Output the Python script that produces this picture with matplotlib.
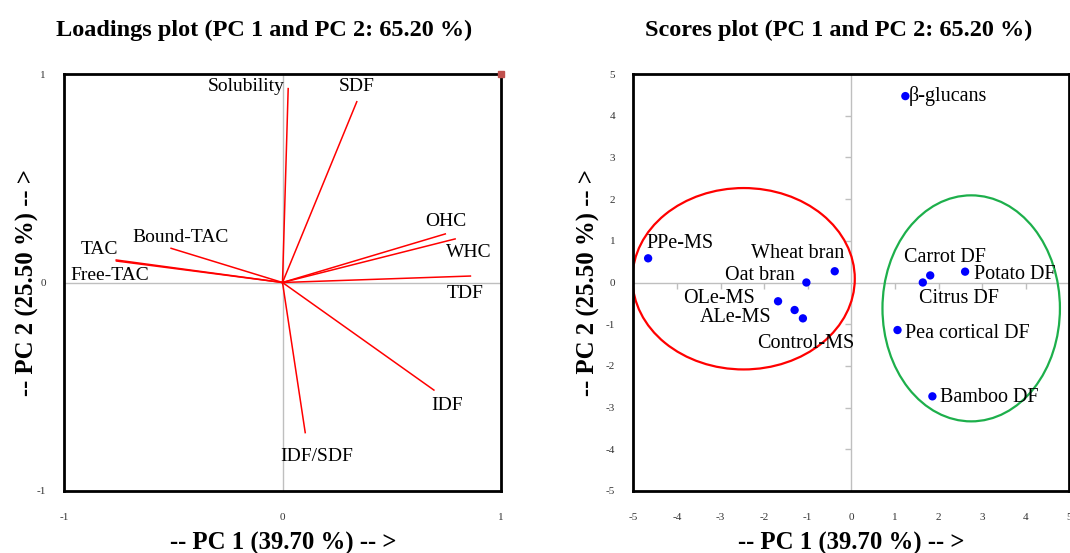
import matplotlib
matplotlib.use("Agg")
import matplotlib.pyplot as plt
from matplotlib.patches import Ellipse

plt.rcParams["font.family"] = ["Liberation Serif", "DejaVu Serif"]
plt.rcParams["axes.unicode_minus"] = False

# ---- Loadings (PC1, PC2) ----
variables = ["Solubility", "SDF", "OHC", "WHC", "TDF", "Bound-TAC", "TAC",
             "Free-TAC", "IDF", "IDF/SDF"]
load_pc1 = [0.026, 0.34, 0.745, 0.79, 0.86, -0.51, -0.761, -0.76, 0.693, 0.104]
load_pc2 = [0.93, 0.867, 0.233, 0.209, 0.031, 0.164, 0.108, 0.103, -0.516, -0.72]
# label offsets (pixels) relative to the arrow tips, and alignment
load_dx = [-4, 0, 1, 14, -5, 10, -17, -7, 13, 11]
load_dy = [2, 15, 12, -14, -17, 11, 10, -14, -15, -24]
load_ha = ["right", "center", "center", "center", "center", "center",
           "center", "center", "center", "center"]

# ---- Scores (PC1, PC2) ----
samples = ["β-glucans", "PPe-MS", "Wheat bran", "Oat bran", "OLe-MS", "ALe-MS",
           "Control-MS", "Carrot DF", "Citrus DF", "Potato DF",
           "Pea cortical DF", "Bamboo DF"]
score_pc1 = [1.24, -4.66, -0.38, -1.03, -1.68, -1.30, -1.11, 1.81, 1.64, 2.61,
             1.06, 1.86]
score_pc2 = [4.47, 0.58, 0.27, 0.0, -0.45, -0.66, -0.86, 0.17, 0.0, 0.26,
             -1.14, -2.73]
score_dx = [3, -2, 10, -12, -23, -23, 3, -26, -4, 9, 7, 8]
score_dy = [0, 15, 18, 7, 3, -7, -25, 18, -16, -3, -3, -1]
score_ha = ["left", "left", "right", "right", "right", "right", "center",
            "left", "left", "left", "left", "left"]

# ---- Group ellipses: centre x, centre y, width, height, colour ----
group_cx = [-2.47, 2.75]
group_cy = [0.09, -0.62]
group_w = [5.1, 4.07]
group_h = [4.35, 5.42]
group_col = ["#FF0000", "#1DAF4B"]

title_txt = "PC 1 and PC 2: 65.20 %"
xlab = "-- PC 1 (39.70 %) -- >"
ylab = "-- PC 2 (25.50 %) -- >"

W, H = 1070, 553
fig = plt.figure(figsize=(W / 100, H / 100), dpi=100)

ax1 = fig.add_axes([64 / W, 1 - 491 / H, 437 / W, 417 / H])
ax2 = fig.add_axes([633.3 / W, 1 - 491 / H, 436 / W, 417 / H])

gray = "#BFBFBF"
for ax in (ax1, ax2):
    for s in ax.spines.values():
        s.set_linewidth(2.0)
        s.set_color("black")
    ax.tick_params(length=0, labelsize=8, colors="#333333")
    ax.axhline(0, color=gray, lw=1.0, zorder=0)
    ax.axvline(0, color=gray, lw=1.0, zorder=0)

# Loadings plot
ax1.set_xlim(-1, 1)
ax1.set_ylim(-1, 1)
ax1.set_xticks([-1, 0, 1])
ax1.set_yticks([-1, 0, 1])
ax1.tick_params(axis="y", pad=13)
ax1.tick_params(axis="x", pad=16)
for name, x, y, dx, dy, ha in zip(variables, load_pc1, load_pc2, load_dx,
                                  load_dy, load_ha):
    ax1.plot([0, x], [0, y], color="#FF0000", lw=1.1, zorder=2)
    ax1.annotate(name, (x, y), xytext=(dx, dy), textcoords="offset pixels",
                 ha=ha, va="center", fontsize=14, zorder=3)
ax1.plot([1], [1], marker="s", ms=5, color="#C0504D", clip_on=False, zorder=5)

# Scores plot
ax2.set_xlim(-5, 5)
ax2.set_ylim(-5, 5)
ticks = list(range(-5, 6))
ax2.set_xticks(ticks)
ax2.set_yticks(ticks)
ax2.tick_params(axis="y", pad=13)
ax2.tick_params(axis="x", pad=16)
inner = [t for t in ticks if t not in (-5, 0, 5)]
ax2.plot(inner, [0] * len(inner), ls="none", marker=3, ms=4, mew=1,
         color=gray, zorder=0)
ax2.plot([0] * len(inner), inner, ls="none", marker=0, ms=4, mew=1,
         color=gray, zorder=0)
for cx, cy, w, h, c in zip(group_cx, group_cy, group_w, group_h, group_col):
    ax2.add_patch(Ellipse((cx, cy), w, h, fill=False, ec=c, lw=1.6, zorder=2))
ax2.scatter(score_pc1, score_pc2, s=36, color="#0000FF", zorder=4,
            edgecolors="none")
for name, x, y, dx, dy, ha in zip(samples, score_pc1, score_pc2, score_dx,
                                  score_dy, score_ha):
    ax2.annotate(name, (x, y), xytext=(dx, dy), textcoords="offset pixels",
                 ha=ha, va="center", fontsize=14.5, zorder=3)

# Titles and axis labels
fig.text(264 / W, 1 - 30 / H, f"Loadings plot ({title_txt})", ha="center",
         va="center", fontsize=17.5, fontweight="bold")
fig.text(839 / W, 1 - 30 / H, f"Scores plot ({title_txt})", ha="center",
         va="center", fontsize=17.5, fontweight="bold")
fig.text(283 / W, 1 - 543 / H, xlab, ha="center", va="center", fontsize=17.8,
         fontweight="bold")
fig.text(851.7 / W, 1 - 543 / H, xlab, ha="center", va="center", fontsize=17.8,
         fontweight="bold")
fig.text(27 / W, 1 - 283 / H, ylab, ha="center", va="center", rotation=90,
         fontsize=17.8, fontweight="bold")
fig.text(588 / W, 1 - 283 / H, ylab, ha="center", va="center", rotation=90,
         fontsize=17.8, fontweight="bold")

fig.savefig("out.png", dpi=100)
